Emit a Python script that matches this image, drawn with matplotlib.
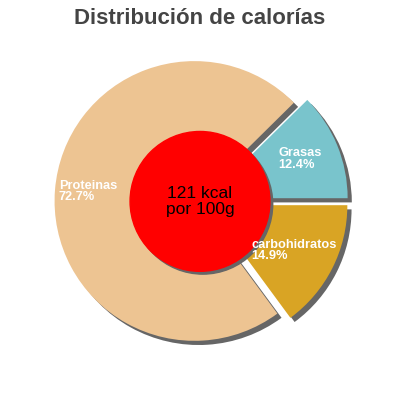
import matplotlib
matplotlib.use("Agg")
import matplotlib.pyplot as plt
from matplotlib.patches import Circle

# datos
nutrientes = ["Grasas", "Proteinas", "carbohidratos"]
porcentajes = [12.4, 72.7, 14.9]
colores = ["#79C4CC", "#EDC492", "#D9A424"]
separacion = [0.06, 0.04, 0.06]
texto_centro = "121 kcal\npor 100g"
titulo = "Distribución de calorías"

plt.rcParams["font.family"] = ["Liberation Sans", "DejaVu Sans"]


def main():
    fig = plt.figure(figsize=(4, 4), dpi=100)
    ax = fig.add_axes([0, 0, 1, 1])

    # sombra
    ax.pie(porcentajes, colors=["#666666"] * 3, explode=separacion,
           startangle=0, counterclock=True, radius=1.0,
           center=(0.03, -0.03), frame=True)
    ax.pie(porcentajes, colors=colores, explode=separacion,
           startangle=0, counterclock=True, radius=1.0,
           center=(0, 0), frame=True)

    ax.set_xlim(-1.43, 1.43)
    ax.set_ylim(-1.42, 1.44)
    ax.set_aspect("equal")
    ax.axis("off")

    ax.add_patch(Circle((0.02, -0.02), 0.5, color="#666666", zorder=3))
    ax.add_patch(Circle((0, 0), 0.5, color="#FF0000", zorder=4))
    ax.text(0, 0.0, texto_centro, ha="center", va="center", fontsize=12.5,
            color="black", zorder=5, linespacing=1.05)

    pos_etiquetas = [(0.56, 0.305), (-1.01, 0.07), (0.37, -0.35)]
    for nombre, pct, (x, y) in zip(nutrientes, porcentajes, pos_etiquetas):
        ax.text(x, y, f"{nombre}\n{pct}%", ha="left", va="center",
                fontsize=9.2, color="white", fontweight="bold",
                linespacing=0.95, zorder=6)

    fig.text(0.5, 0.955, titulo, ha="center", va="center", fontsize=16,
             fontweight="bold", color="#444444")
    fig.savefig("out.png", dpi=100, facecolor="white")


if __name__ == "__main__":
    main()
